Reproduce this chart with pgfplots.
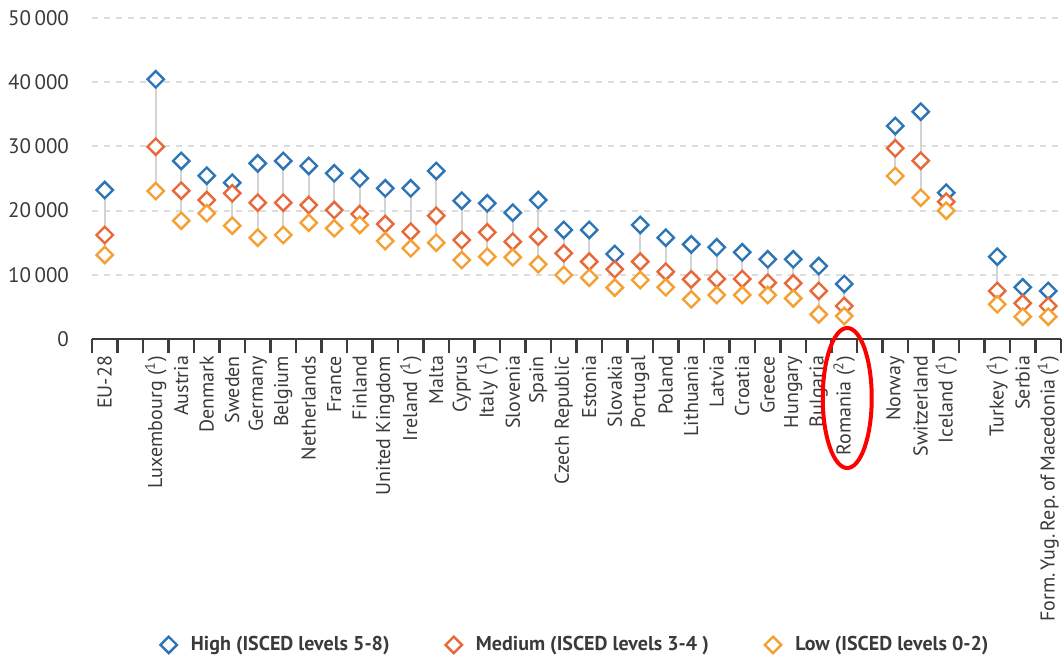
\documentclass[border=0pt]{standalone}
\usepackage{pgfplots}
\pgfplotsset{compat=1.18}
\usepackage{pgfplotstable}
\usepackage{fontspec}
\setmainfont{PT Sans}
\definecolor{cHigh}{HTML}{2E75B6}
\definecolor{cMed}{HTML}{E8683A}
\definecolor{cLow}{HTML}{F5A033}
\definecolor{axisgray}{HTML}{3C3C3C}
\definecolor{txtgray}{HTML}{3A3A3A}
\definecolor{gridgray}{HTML}{DCDCDC}
\definecolor{conngray}{HTML}{D4D4D4}
\newcommand{\tsp}{\hspace{0.17em}}

\pgfplotstableread{
x high med low
0 23200 16200 13100
2 40450 29950 23050
3 27730 23100 18430
4 25440 21650 19580
5 24350 22690 17650
6 27360 21230 15780
7 27730 21230 16200
8 26950 20870 18120
9 25810 20090 17240
10 25030 19470 17760
11 23470 17910 15260
12 23470 16720 14130
13 26170 19210 15000
14 21550 15420 12300
15 21130 16620 12820
16 19680 15160 12720
17 21650 15940 11630
18 16980 13350 9970
19 16980 12050 9550
20 13240 10850 8000
21 17760 12050 9190
22 15780 10490 8050
23 14740 9290 6180
24 14280 9350 6850
25 13500 9350 6850
26 12410 8770 6850
27 12410 8670 6330
28 11370 7480 3840
29 8570 5140 3580
31 33180 29700 25390
32 35400 27780 22010
33 22790 21390 19990
35 12820 7480 5400
36 8050 5560 3480
37 7480 5140 3480
}\datatable

\begin{document}
\begin{tikzpicture}
\useasboundingbox (-46pt,-160pt) rectangle (485pt,169.5pt);
\begin{axis}[
  at={(0,0)}, anchor=south west,
  scale only axis, width=484.5pt, height=160.5pt,
  xmin=-0.5, xmax=37.5, ymin=0, ymax=50000,
  axis x line*=bottom, axis y line*=left,
  y axis line style={draw=none},
  x axis line style={draw=axisgray, line width=1.2pt},
  tick align=outside,
  major tick length=0pt,
  minor tick length=7pt,
  minor tick style={draw=axisgray, line width=1.2pt},
  ytick={0,10000,20000,30000,40000,50000},
  ytick style={draw=none},
  scaled y ticks=false,
  /pgf/number format/1000 sep={\,},
  /pgf/number format/assume math mode=true,
  ymajorgrids,
  grid style={gridgray, line width=1pt, dash pattern=on 3pt off 3pt},
  yticklabel style={font=\fontsize{10.5}{12}\selectfont, text=txtgray},
  yticklabel shift=8pt,
  xtick={0,2,3,...,29,31,32,33,35,36,37},
  minor xtick={-0.5,0.5,...,37.5},
  xticklabels={EU-28, Luxembourg (\textsuperscript{1}), Austria, Denmark, Sweden, Germany, Belgium, Netherlands, France, Finland, United Kingdom, Ireland (\textsuperscript{1}), Malta, Cyprus, Italy (\textsuperscript{1}), Slovenia, Spain, Czech Republic, Estonia, Slovakia, Portugal, Poland, Lithuania, Latvia, Croatia, Greece, Hungary, Bulgaria, Romania (\textsuperscript{2}), Norway, Switzerland, Iceland (\textsuperscript{1}), Turkey (\textsuperscript{1}), Serbia, Form.\tsp Yug.\tsp Rep.\tsp of\tsp Macedonia\tsp (\textsuperscript{1})},
  xticklabel style={rotate=90, anchor=east, font=\fontsize{10}{12}\selectfont, text=txtgray},
  xticklabel shift=5pt,
  clip=false,
  legend style={at={(0.5,-0.953)}, anchor=center, draw=none, fill=none,
    legend columns=3, font=\bfseries\fontsize{10}{12}\selectfont, text=txtgray,
    /tikz/every odd column/.append style={column sep=5pt},
    /tikz/every even column/.append style={column sep=26pt}},
  legend cell align=left,
]
\addplot[draw=none, mark=none, forget plot,
  error bars/.cd, y dir=minus, y explicit, error mark=none,
  error bar style={conngray, line width=1pt}]
  table[x=x, y=high, y error minus expr=\thisrow{high}-\thisrow{low}] {\datatable};
\addplot[only marks, mark=square*, mark size=2.9pt,
  mark options={rotate=45, draw=cHigh, fill=white, line width=1.2pt}]
  table[x=x, y=high] {\datatable};
\addlegendentry{High (ISCED levels 5-8)}
\addplot[only marks, mark=square*, mark size=2.9pt,
  mark options={rotate=45, draw=cMed, fill=white, line width=1.2pt}]
  table[x=x, y=med] {\datatable};
\addlegendentry{Medium (ISCED levels 3-4 )}
\addplot[only marks, mark=square*, mark size=2.9pt,
  mark options={rotate=45, draw=cLow, fill=white, line width=1.2pt}]
  table[x=x, y=low] {\datatable};
\addlegendentry{Low (ISCED levels 0-2)}
\draw[red, line width=2pt] (axis cs:29,0) ++(1.5pt,-29.5pt) ellipse [x radius=12.25pt, y radius=35pt];
\end{axis}
\end{tikzpicture}
\end{document}
